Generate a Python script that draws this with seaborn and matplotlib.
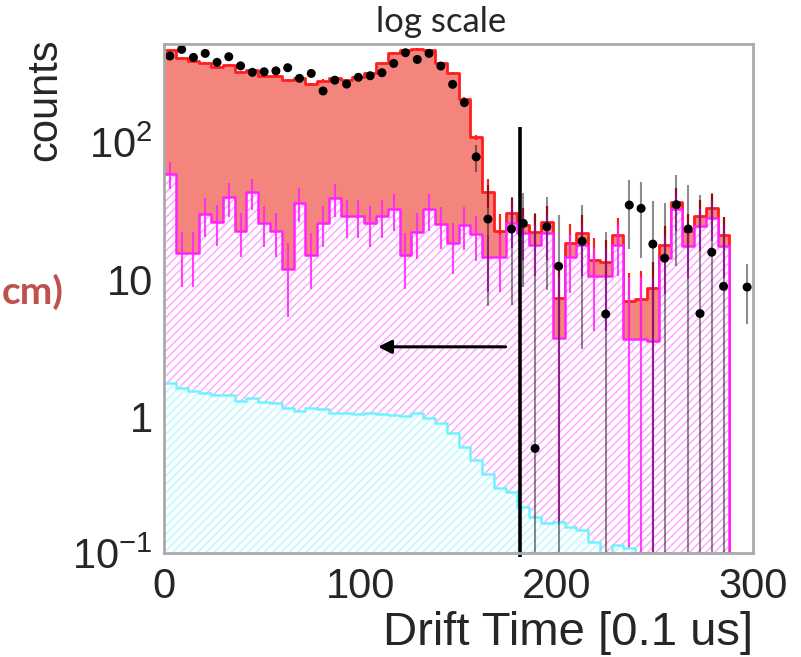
import numpy as np
import pandas as pd
import matplotlib
matplotlib.use("Agg")
import matplotlib.pyplot as plt
import seaborn as sns
from matplotlib.ticker import NullFormatter, LogLocator

nan = np.nan

# ---------------- data ----------------
bin_edges = list(range(0, 301, 6))          # 50 bins of 6 x 0.1 us
bin_centers = [e + 3 for e in bin_edges[:-1]]

# cumulative stack levels (bottom component, +middle component, +top component)
stack_cyan = [1.75, 1.59, 1.53, 1.48, 1.42, 1.42, 1.29, 1.35, 1.26, 1.24,
              1.14, 1.09, 1.14, 1.12, 1.06, 1.05, 1.03, 1.05, 1.03, 1.02,
              1.00, 1.05, 0.96, 0.885, 0.75, 0.59, 0.48, 0.38, 0.30, 0.28,
              0.218, 0.184, 0.165, 0.167, 0.156, 0.147, 0.121, 0.100, 0.114, 0.108,
              0.100, 0.099, 0.099, 0.099, 0.099, 0.099, 0.099, 0.099, 0, 0]

stack_magenta = [58.4, 15.4, 15.4, 29.7, 26.2, 39.5, 22.4, 43.0, 25.8, 22.4,
                 11.8, 36.0, 15.1, 25.8, 38.8, 28.8, 28.8, 25.8, 28.8, 32.3,
                 15.0, 22.1, 32.3, 25.2, 18.2, 24.8, 21.3, 14.6, 14.6, 25.5,
                 21.6, 17.7, 21.6, 3.69, 14.4, 17.7, 10.5, 10.5, 17.7, 3.62,
                 3.62, 3.55, 14.2, 32.3, 17.3, 24.4, 28.0, 17.3, 0, 0]

stack_total = [470, 410, 392, 379, 355, 365, 326, 335, 303, 303,
               284, 293, 265, 281, 296, 284, 300, 321, 375, 449,
               470, 475, 470, 375, 317, 208, 108, 43.4, 22.4, 30.2,
               24.8, 22.1, 26.2, 7.3, 18.4, 21.8, 13.8, 13.4, 20.8, 6.95,
               7.1, 8.55, 17.7, 36.3, 22.4, 29.0, 32.8, 20.9, 0, 0]

magenta_err = [13, 6.7, 6.7, 9.5, 8.7, 11, 8, 11, 8.6, 8,
               6.5, 10, 6.6, 8.6, 10.5, 9, 9, 8.6, 9, 9.7,
               6.6, 8, 9.7, 8.5, 7.3, 8.5, 7.8, 6.5, 6.5, 8.6,
               7.9, 7.2, 7.9, 6.7, 6.5, 7.2, 6.3, 6.3, 7.2, 6.7,
               6.7, 6.7, 6.4, 9.7, 7.1, 8.4, 9, 7.1, nan, nan]

total_err = [9, 8, 8, 8, 7, 7, 7, 7, 6, 6,
             6, 6, 5, 6, 6, 6, 6, 6, 7, 9,
             9, 9, 9, 7, 6, 5, 4, 10.5, 7.6, 8.8,
             8, 7.5, 8.2, 4.3, 6.9, 7.5, 6, 5.9, 7.3, 4.2,
             4.3, 4.7, 6.7, 9.6, 7.6, 8.6, 9.2, 7.3, nan, nan]

data_counts = [425, 475, 415, 444, 382, 420, 360, 323, 326, 331,
               349, 292, 317, 236, 283, 265, 297, 305, 321, 375,
               449, 401, 444, 359, 264, 194, 78, 27.4, nan, 23.2,
               25.5, 0.58, 24.1, 12.4, nan, 18.9, nan, 5.55, nan, 34.7,
               32.8, 18.0, 14.2, 34.9, 23.2, 5.6, 15.7, 8.85, nan, 8.74]

data_err = [22, 24, 22, 22, 21, 22, 20, 19, 19, 19,
            20, 18, 19, 17, 18, 17, 18, 18, 19, 20,
            22, 21, 22, 20, 17, 14, 18, 21, nan, 16.7,
            16.7, 29.6, 15.8, 16.9, nan, 15.8, nan, 16.5, nan, 18.1,
            18.5, 19.3, 21.5, 22.5, 25.3, 35.4, 26.5, 19.7, nan, 4.06]

y_ticks = [0.1, 1, 10, 100]
y_tick_labels = [r"$\mathregular{10^{-1}}$", "1", "10", r"$\mathregular{10^{2}}$"]
x_ticks = [0, 100, 200, 300]

cut_value = 181.5
# -----------------------------------------------------------------

sns.set_style("white")
plt.rcParams["font.family"] = ["Liberation Sans", "DejaVu Sans"]
plt.rcParams["mathtext.fontset"] = "custom"
plt.rcParams["mathtext.rm"] = "Liberation Sans"
plt.rcParams["mathtext.it"] = "Liberation Sans:italic"
plt.rcParams["hatch.linewidth"] = 1.2

df = pd.DataFrame({"t": bin_centers, "cyan": stack_cyan,
                   "mag": stack_magenta, "tot": stack_total})

fig = plt.figure(figsize=(8.01, 6.57), dpi=100)
ax = fig.add_axes([164 / 801, 1 - 553 / 657, 589 / 801, 509 / 657])

RED_FILL = "#F4857C"
RED_LINE = "#FF1E1E"
MAG_LINE = "#FF22FF"
MAG_HATCH = "#FFAEFF"
CYAN_LINE = "#70F2FF"
CYAN_HATCH = "#BDFBFF"


def layer(col, face, hatch_col, hatch, line_col, lw, z):
    if hatch:
        sns.histplot(data=df, x="t", weights=col, bins=bin_edges, element="step",
                     fill=True, facecolor=face, edgecolor=hatch_col, linewidth=0,
                     hatch=hatch, zorder=z, ax=ax)
    else:
        sns.histplot(data=df, x="t", weights=col, bins=bin_edges, element="step",
                     fill=True, facecolor=face, edgecolor="none", linewidth=0,
                     zorder=z, ax=ax)
    sns.histplot(data=df, x="t", weights=col, bins=bin_edges, element="step",
                 fill=False, color=line_col, linewidth=lw, zorder=z + 0.2, ax=ax)


# top (total) layer
layer("tot", RED_FILL, None, None, RED_LINE, 2.0, 1)
ax.errorbar(bin_centers, stack_total, yerr=total_err, fmt="none",
            ecolor=RED_LINE, elinewidth=1.6, zorder=1.3)
# middle (magenta) layer
layer("mag", "white", MAG_HATCH, "////", MAG_LINE, 1.8, 2)
ax.errorbar(bin_centers, stack_magenta, yerr=magenta_err, fmt="none",
            ecolor=MAG_LINE, elinewidth=1.5, alpha=0.85, zorder=2.3)
# bottom (cyan) layer
layer("cyan", "white", CYAN_HATCH, "////", CYAN_LINE, 1.8, 3)

# data
ax.errorbar(bin_centers, data_counts, yerr=data_err, fmt="none",
            ecolor=(0, 0, 0, 0.45), elinewidth=1.5, zorder=5)
sns.scatterplot(x=bin_centers, y=data_counts, color="black", s=42,
                marker="o", edgecolor="none", zorder=6, ax=ax)

ax.set_yscale("log")
ax.set_xlim(0, 300)
ax.set_ylim(0.1, 520)

# cut line and arrow
ax.plot([cut_value, cut_value], [128, 0.093], color="black", lw=2.6,
        clip_on=False, zorder=8, solid_capstyle="butt")
ax.annotate("", xy=(109, 3.2), xytext=(174, 3.2),
            arrowprops=dict(arrowstyle="-|>", lw=2.2, color="black",
                            mutation_scale=20, shrinkA=0, shrinkB=0),
            zorder=8)

# axes styling
ax.set_yticks(y_ticks)
ax.set_yticklabels(y_tick_labels)
ax.yaxis.set_minor_locator(LogLocator(base=10, subs=np.arange(2, 10)))
ax.yaxis.set_minor_formatter(NullFormatter())
ax.set_xticks(x_ticks)
ax.set_xticklabels([str(v) for v in x_ticks])
ax.tick_params(axis="both", which="major", direction="in", length=12,
               width=1, color="#555555", labelsize=30, pad=8)
ax.tick_params(axis="both", which="minor", direction="in", length=6,
               width=1, color="#555555")
ax.tick_params(axis="x", pad=10)
for sp in ax.spines.values():
    sp.set_color("#AAAAAA")
    sp.set_linewidth(2)
    sp.set_zorder(9)

ax.set_xlabel("Drift Time [0.1 us]", fontsize=34)
ax.xaxis.label.set_ha("right")
ax.xaxis.label.set_va("baseline")
ax.xaxis.set_label_coords(1.0, -(645 - 553) / 509)

ax.set_ylabel("counts", fontsize=30)
ax.yaxis.label.set_va("center")
ax.yaxis.label.set_ha("center")
ax.yaxis.set_label_coords((45 - 164) / 589, (553 - 100) / 509)

fig.text(441 / 801, 1 - 32 / 657, "log scale", fontsize=25,
         family=["Lato", "DejaVu Sans"], ha="center", va="baseline")
fig.text(2 / 801, 1 - 292 / 657, "cm)", fontsize=28, fontweight="bold",
         family=["Lato", "DejaVu Sans"], color="#C0504D", ha="left",
         va="center")

fig.savefig("out.png", dpi=100)
